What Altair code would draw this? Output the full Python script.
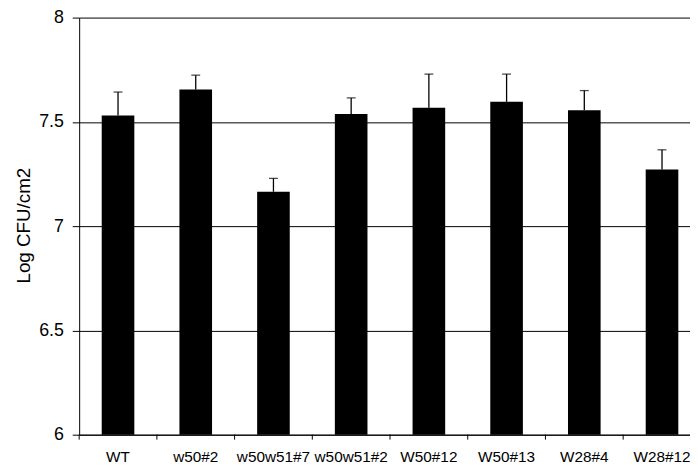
import altair as alt
import pandas as pd

strains = ["WT", "w50#2", "w50w51#7", "w50w51#2", "W50#12", "W50#13", "W28#4", "W28#12"]
means = [7.53, 7.655, 7.165, 7.538, 7.568, 7.596, 7.556, 7.272]
uppers = [7.643, 7.724, 7.229, 7.615, 7.729, 7.729, 7.650, 7.366]

df = pd.DataFrame({"strain": strains, "mean": means, "upper": uppers})

W, H = 629, 422
font = "Liberation Sans"

xenc = alt.X("strain:N", sort=strains, title=None,
             scale=alt.Scale(paddingInner=0, paddingOuter=0),
             axis=alt.Axis(ticks=False, labelAngle=0, labelFontSize=15.5, labelFont=font,
                           labelColor="black", labelPadding=15, domainColor="black",
                           domainWidth=1))
yscale = alt.Scale(domain=[6, 8], nice=False, zero=False)

base = alt.Chart(df)

bars = base.mark_bar(color="black", size=33).encode(
    x=xenc,
    y=alt.Y("mean:Q", scale=yscale, title="Log CFU/cm2",
            axis=alt.Axis(values=[6, 6.5, 7, 7.5, 8],
                          labelExpr="datum.value == 6 || datum.value == 7 || datum.value == 8 ? format(datum.value, 'd') : format(datum.value, '.1f')",
                          labelFontSize=18, labelFont=font, labelColor="black",
                          labelPadding=9, tickSize=7, tickColor="black", domainColor="black",
                          gridColor="black", gridOpacity=1, gridWidth=1,
                          titleFont=font, titleFontSize=19, titleFontWeight="normal",
                          titleColor="black", titleX=-56, titleY=210, titleAngle=270,
                          titleAlign="center", titleBaseline="middle")),
    y2=alt.Y2(datum=6),
)

err = base.mark_rule(color="black", strokeWidth=1.3).encode(
    x=alt.X("strain:N", sort=strains),
    y=alt.Y("mean:Q", scale=yscale),
    y2="upper:Q",
)

caps = base.mark_tick(color="black", thickness=1.3, size=9, orient="horizontal").encode(
    x=alt.X("strain:N", sort=strains),
    y=alt.Y("upper:Q", scale=yscale),
)

xticks = base.mark_rule(color="black", strokeWidth=1).encode(
    x=alt.X("strain:N", sort=strains, bandPosition=0),
    y=alt.value(H),
    y2=alt.value(H + 5),
)

chart = alt.layer(bars, err, caps, xticks).properties(
    width=W, height=H,
    autosize=alt.AutoSizeParams(type="none"),
    padding={"left": 72, "top": 7, "right": -11, "bottom": 31},
).configure_view(stroke=None).configure_axis(grid=True).configure_axisX(grid=False)

chart.save("out.html", embed_options={"renderer": "svg", "actions": False})
